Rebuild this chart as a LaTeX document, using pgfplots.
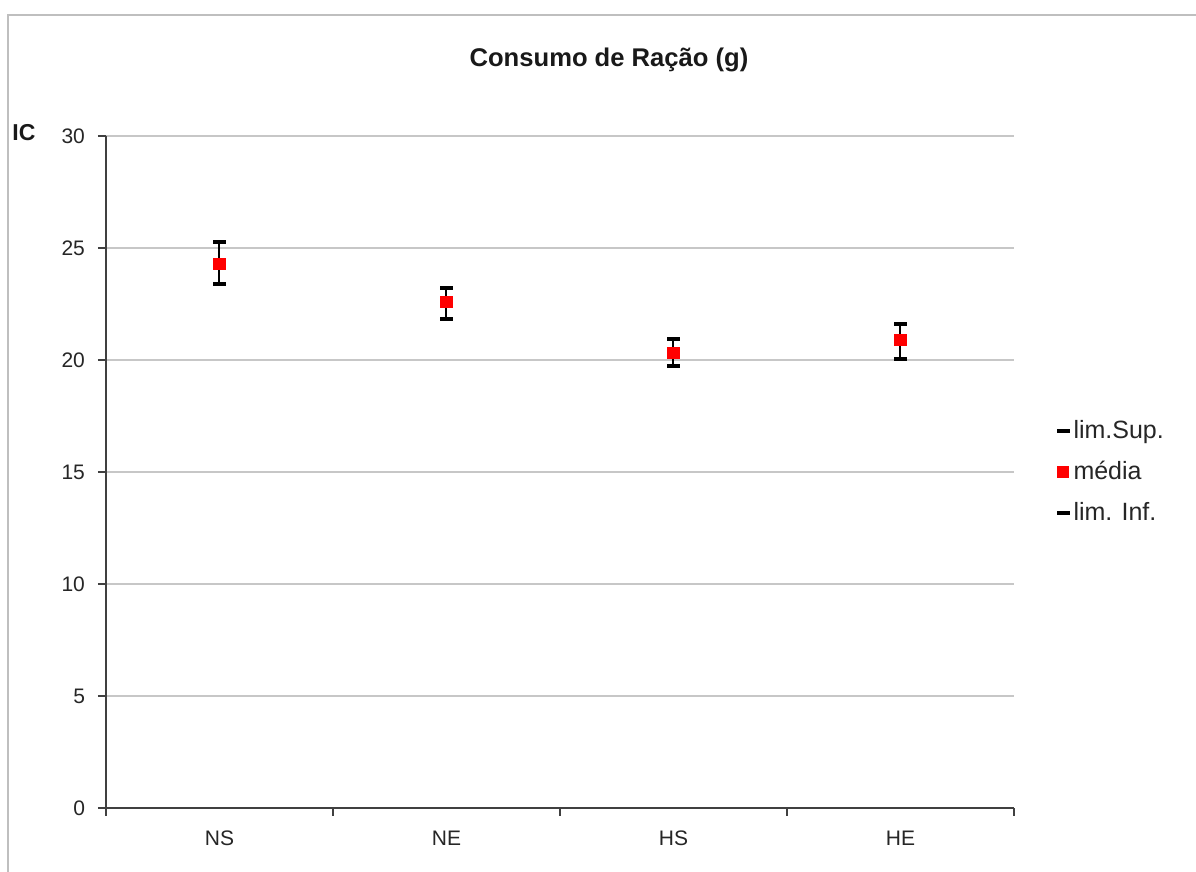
\documentclass[border=0pt]{standalone}
\usepackage{fontspec}
\setmainfont{Liberation Sans}
\usepackage{pgfplots}
\pgfplotsset{compat=1.18}
\begin{document}
\begin{tikzpicture}
\fill[white] (-53pt,-32pt) rectangle (545pt,404pt);
\path[use as bounding box] (-53pt,-32pt) rectangle (545pt,404pt);
\draw[black!25, line width=0.8pt] (-49pt,-32pt) -- (-49pt,396.5pt) -- (545pt,396.5pt);
\node[font=\bfseries\fontsize{12.8}{15}\selectfont, text=black!90] at (251.5pt,374pt) {Consumo de Ração (g)};
\node[font=\bfseries\fontsize{11.5}{13}\selectfont, text=black!90] at (-41pt,337.5pt) {IC};
\begin{axis}[
  scale only axis,
  width=454pt, height=336pt,
  xmin=-0.5, xmax=3.5,
  ymin=0, ymax=30,
  ytick={0,5,...,30},
  xtick={0,1,2,3},
  xticklabels={NS,NE,HS,HE},
  minor xtick={-0.5,0.5,1.5,2.5,3.5},
  major x tick style={draw=none},
  minor x tick style={black!75, line width=0.7pt},
  y tick style={black!75, line width=0.7pt},
  minor tick length=4pt,
  major tick length=4pt,
  tick align=outside,
  axis x line*=bottom,
  axis y line*=left,
  axis line style={black!75, line width=0.8pt},
  ymajorgrids,
  grid style={black!22, line width=0.6pt},
  /pgf/number format/assume math mode=true,
  ticklabel style={font=\fontsize{10.5}{12}\selectfont, text=black!85},
  yticklabel style={xshift=-3pt},
  xticklabel style={yshift=-4pt},
  legend style={at={(1.04,0.5)}, anchor=west, draw=none, fill=none,
    font=\fontsize{12.5}{14}\selectfont, text=black!85, row sep=6pt},
  legend cell align=left,
  clip=false,
]
\addplot[only marks, mark=-, mark size=3.2pt, line width=2pt, black]
  coordinates {(0,25.25) (1,23.2) (2,20.95) (3,21.6)};
\addlegendentry{lim.Sup.}
\addplot[only marks, mark=square*, mark size=2.8pt, red,
  error bars/.cd, y dir=both, y explicit, error mark=none,
  error bar style={black, line width=1pt}]
  coordinates {
    (0,24.29) += (0,0.96) -= (0,0.91)
    (1,22.59) += (0,0.61) -= (0,0.76)
    (2,20.33) += (0,0.62) -= (0,0.60)
    (3,20.89) += (0,0.71) -= (0,0.84)
  };
\addlegendentry{média}
\addplot[only marks, mark=-, mark size=3.2pt, line width=2pt, black]
  coordinates {(0,23.38) (1,21.83) (2,19.73) (3,20.05)};
\addlegendentry{lim. Inf.}
\end{axis}
\end{tikzpicture}
\end{document}
